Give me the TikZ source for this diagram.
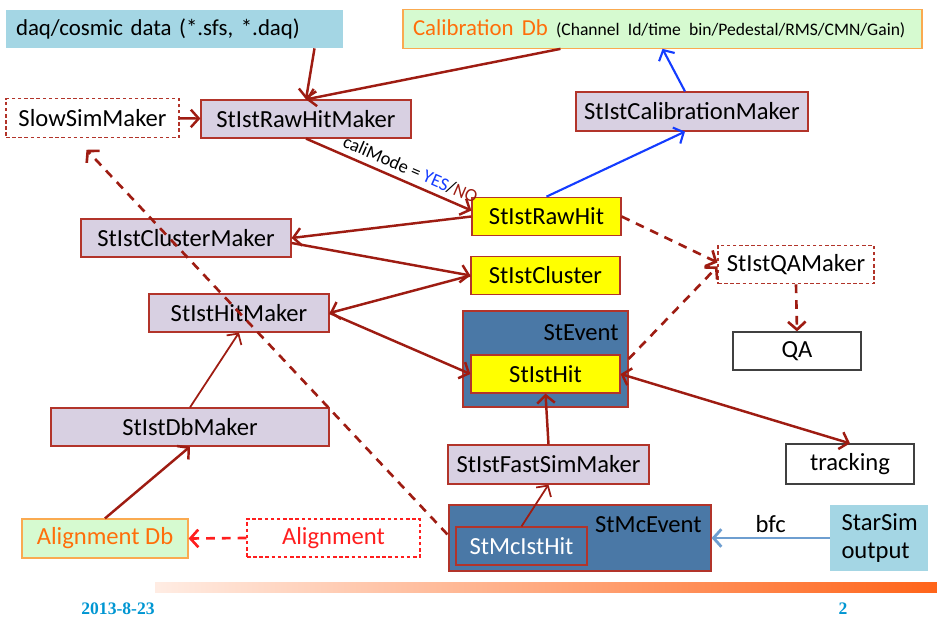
\documentclass[tikz,border=0pt]{standalone}
\usepackage{fontspec}
\setmainfont{Carlito}
\newfontfamily\footfont{Liberation Serif}
\usetikzlibrary{arrows.meta,calc}

\definecolor{arrowred}{RGB}{158,28,18}
\definecolor{boxred}{RGB}{178,52,42}
\definecolor{lilac}{RGB}{216,208,226}
\definecolor{hityellow}{RGB}{255,255,0}
\definecolor{eventblue}{RGB}{74,120,166}
\definecolor{daqblue}{RGB}{164,214,228}
\definecolor{dbgreen}{RGB}{214,250,208}
\definecolor{dborange}{RGB}{255,110,10}
\definecolor{dbedge}{RGB}{250,170,80}
\definecolor{calblue}{RGB}{20,60,255}
\definecolor{bfcblue}{RGB}{110,158,208}
\definecolor{alignred}{RGB}{255,30,30}
\definecolor{footblue}{RGB}{0,150,210}
\definecolor{barorange}{RGB}{255,100,25}

\begin{document}
\begin{tikzpicture}[x=0.02cm,y=-0.02cm,
	every node/.style={font=\fontsize{14}{16}\selectfont,inner sep=0pt},
	maker/.style={shape=rectangle,draw=boxred,fill=lilac,line width=0.7pt,minimum height=0.76cm},
	hitbox/.style={shape=rectangle,draw=boxred,fill=hityellow,line width=0.7pt,minimum height=0.77cm},
	dashbox/.style={shape=rectangle,draw=boxred,dash pattern=on 2pt off 1.5pt,line width=0.6pt,minimum height=0.77cm},
	plainbox/.style={shape=rectangle,draw=black!75,line width=0.7pt,minimum height=0.77cm},
	eventbox/.style={shape=rectangle,draw=boxred,fill=eventblue,line width=0.7pt},
	dbbox/.style={shape=rectangle,draw=dbedge,fill=dbgreen,line width=0.7pt,minimum height=0.77cm},
	barb/.style={-{Straight Barb[length=4.5pt,width=10pt]}},
	twobarb/.style={{Straight Barb[length=4.5pt,width=10pt]}-{Straight Barb[length=4.5pt,width=10pt]}},
	flow/.style={color=arrowred,line width=1.4pt,barb},
	thinflow/.style={color=arrowred,line width=1pt,barb},
	dashflow/.style={color=arrowred,line width=1.5pt,dash pattern=on 5pt off 4pt,barb},
	calflow/.style={color=calblue,line width=1.2pt,barb},
	foot/.style={font=\footfont\bfseries\fontsize{10}{12}\selectfont,text=footblue}]

	\useasboundingbox (0,0) rectangle (937,618);

	\node[shape=rectangle,fill=daqblue,minimum height=0.76cm,inner xsep=0.2cm,text width=6.34cm,align=left,font=\fontsize{13}{15}\selectfont] (daq) at (174.5,29) {daq/cosmic data (*.sfs, *.daq)};
	\node[dbbox,inner xsep=0.2cm,text width=9.98cm,align=left] (calib) at (662.5,29) {\mbox{\textcolor{dborange}{\fontsize{13}{15}\selectfont Calibration Db} {\fontsize{10}{12}\selectfont(Channel Id/time bin/Pedestal/RMS/CMN/Gain)}}};
	\node[dashbox,minimum width=3.46cm] (slow) at (92.5,118) {SlowSimMaker};
	\node[maker,minimum width=4.2cm] (rawmaker) at (306,119) {StIstRawHitMaker};
	\node[maker,minimum width=4.64cm,minimum height=0.78cm] (calmaker) at (692,111.5) {StIstCalibrationMaker};
	\node[hitbox,minimum width=2.98cm] (rawhit) at (546.5,216.5) {StIstRawHit};
	\node[maker,minimum width=4.2cm] (clustermaker) at (186,238) {StIstClusterMaker};
	\node[hitbox,minimum width=2.98cm] (cluster) at (545.5,275.5) {StIstCluster};
	\node[dashbox,minimum width=3.12cm] (qamaker) at (796,264.5) {StIstQAMaker};
	\node[maker,minimum width=3.6cm] (hitmaker) at (239,313) {StIstHitMaker};
	\node[eventbox,minimum width=3.3cm,minimum height=1.92cm] (stevent) at (545.5,359) {};
	\node[anchor=east] (steventlabel) at (619,333) {StEvent};
	\node[hitbox,minimum width=2.98cm,minimum height=0.76cm] (isthit) at (545.5,374) {StIstHit};
	\node[plainbox,minimum width=2.56cm,minimum height=0.76cm] (qa) at (797,351) {QA};
	\node[maker,minimum width=5.56cm] (dbmaker) at (190,427) {StIstDbMaker};
	\node[maker,minimum width=4.02cm,minimum height=0.78cm] (fastsim) at (548.5,464.5) {StIstFastSimMaker};
	\node[plainbox,minimum width=2.56cm,minimum height=0.8cm] (tracking) at (850,464) {tracking};
	\node[eventbox,minimum width=5.24cm,minimum height=1.32cm] (mcevent) at (580,538) {};
	\node[anchor=east] (mceventlabel) at (702,525) {StMcEvent};
	\node[eventbox,minimum width=2.62cm,minimum height=0.76cm,text=white] (mcisthit) at (521.5,546) {StMcIstHit};
	\node[shape=rectangle,fill=daqblue,minimum height=1.32cm,inner xsep=0.23cm,text width=1.5cm,align=left] (starsim) at (879,538) {StarSim\\output};
	\node[dbbox,minimum width=3.32cm,minimum height=0.78cm,text=dborange] (aligndb) at (105,538.5) {Alignment Db};
	\node[dashbox,draw=alignred,minimum width=3.46cm,minimum height=0.76cm,text=alignred] (align) at (333.5,538) {Alignment};

	\shade[left color=barorange!12!white,right color=barorange] (155,582) rectangle (937,592);
	\node[foot] (date) at (118,609) {2013-8-23};
	\node[foot] (page) at (843,609) {2};

	\path[flow] ($(daq.south)+(140,0)$) edge (rawmaker.north);
	\path[flow] ($(calib.south)+(-102,0)$) edge (rawmaker.north);
	\path[flow] (slow) edge (rawmaker);
	\path[flow] (rawmaker.south) edge node[sloped,above,pos=0.6,inner sep=3pt,text=black,font=\fontsize{10.5}{12}\selectfont]{caliMode = \textcolor{calblue}{YES}/\textcolor{arrowred}{NO}} ($(rawhit.west)+(0,-6)$);
	\path[calflow] (rawhit.north) edge ($(calmaker.south)+(-7,0)$);
	\path[calflow] ($(calmaker.north)+(-7,0)$) edge (calib.south);
	\path[flow] (rawhit.west) edge (clustermaker.east);
	\path[flow] ($(clustermaker.east)+(0,5)$) edge (cluster.west);
	\path[flow] (cluster.west) edge (hitmaker.east);
	\path[flow] (hitmaker.east) edge (isthit.west);
	\path[thinflow] (dbmaker.north) edge (hitmaker.south);
	\path[flow] (aligndb.north) edge (dbmaker.south);
	\path[dashflow] (rawhit.east) edge ($(qamaker.west)+(0,-2)$);
	\path[dashflow] (stevent.east) edge ($(qamaker.west)+(0,2)$);
	\path[dashflow] (qamaker.south) edge (qa.north);
	\path[flow,twobarb] (isthit.east) edge (tracking.north);
	\path[flow] (fastsim.north) edge (isthit.south);
	\path[thinflow] (mcisthit.north) edge (fastsim.south);
	\path[dashflow] ($(mcisthit.north west)+(-8,8)$) edge ($(slow.south)+(-6,12)$);
	\path[dashflow,color=alignred] (align.west) edge (aligndb.east);
	\path[color=bfcblue,line width=1.6pt,barb] (starsim.west) edge node[above=2pt,text=black]{bfc} (mcevent.east);

\end{tikzpicture}
\end{document}
